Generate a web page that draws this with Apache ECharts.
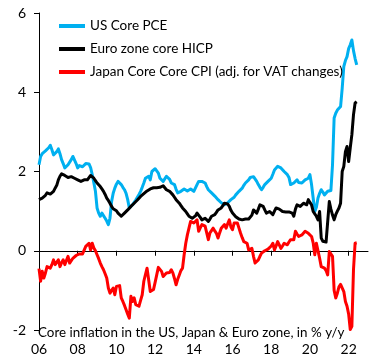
<!DOCTYPE html>
<html><head><meta charset="utf-8">
<script src="https://cdn.jsdelivr.net/npm/echarts@6/dist/echarts.min.js"></script>
<style>html,body{margin:0;padding:0;background:#fff}#c{width:383px;height:360px}</style>
</head><body><div id="c"></div>
<script>
// Monthly data, Jan 2006 .. Jun 2022 (% y/y)
const startYear = 2006;
const seriesNames = ['US Core PCE', 'Euro zone core HICP', 'Japan Core Core CPI (adj. for VAT changes)'];

const usCorePCE = [
  2.17,2.38,2.45,2.50,2.52,2.55,2.60,2.66,2.55,2.42,2.45,2.50,
  2.57,2.45,2.30,2.20,2.09,2.12,2.17,2.22,2.30,2.38,2.40,2.20,
  2.09,2.15,2.17,2.12,2.13,2.20,2.24,2.19,2.10,1.92,1.72,1.50,
  1.08,0.95,0.87,0.95,0.99,0.82,0.75,0.66,0.82,1.24,1.45,1.58,
  1.68,1.75,1.72,1.67,1.60,1.54,1.45,1.29,1.08,1.12,1.16,1.22,
  1.28,1.33,1.42,1.50,1.60,1.71,1.83,1.85,1.88,1.79,2.00,2.04,
  2.07,2.02,1.96,1.83,1.78,1.75,1.80,1.88,1.92,1.80,1.71,1.69,
  1.67,1.55,1.46,1.48,1.50,1.53,1.56,1.54,1.51,1.54,1.56,1.53,
  1.50,1.50,1.67,1.75,1.74,1.75,1.73,1.71,1.62,1.54,1.50,1.46,
  1.42,1.38,1.33,1.29,1.25,1.21,1.18,1.16,1.18,1.21,1.25,1.29,
  1.29,1.35,1.41,1.46,1.50,1.54,1.58,1.65,1.71,1.75,1.79,1.85,
  1.90,1.87,1.83,1.75,1.67,1.60,1.54,1.60,1.67,1.70,1.75,1.79,
  1.83,1.93,2.04,2.08,2.13,2.09,2.09,2.04,2.00,1.96,1.92,1.85,
  1.67,1.69,1.71,1.75,1.79,1.72,1.67,1.71,1.75,1.79,1.80,1.83,
  1.92,1.67,1.33,0.99,1.10,1.33,1.45,1.54,1.48,1.41,1.45,1.50,
  1.50,1.52,2.17,3.35,3.47,3.55,3.60,3.64,4.10,4.65,4.80,4.90,
  5.10,5.20,5.32,5.05,4.85,4.69
];

const euroCoreHICP = [
  1.29,1.31,1.33,1.37,1.40,1.46,1.44,1.43,1.47,1.50,1.58,1.65,
  1.79,1.88,1.94,1.92,1.90,1.88,1.85,1.86,1.87,1.85,1.83,1.81,
  1.79,1.79,1.75,1.71,1.79,1.77,1.79,1.84,1.90,1.87,1.83,1.77,
  1.71,1.66,1.62,1.56,1.50,1.42,1.33,1.27,1.20,1.12,1.06,1.03,
  1.01,0.95,0.90,0.87,0.84,0.95,0.99,1.03,1.08,1.12,1.16,1.20,
  1.24,1.28,1.33,1.37,1.41,1.44,1.48,1.51,1.54,1.56,1.58,1.59,
  1.60,1.59,1.58,1.60,1.62,1.64,1.67,1.54,1.52,1.50,1.45,1.41,
  1.35,1.29,1.25,1.20,1.14,1.08,1.04,0.99,0.93,0.87,0.85,0.82,
  0.82,0.88,0.95,0.91,0.84,0.78,0.80,0.82,0.78,0.74,0.80,0.87,
  0.89,0.91,0.97,1.03,1.05,1.08,1.14,1.20,1.24,1.18,1.12,1.02,
  0.95,0.91,0.86,0.82,0.80,0.78,0.78,0.78,0.80,0.82,0.80,0.78,
  0.90,1.03,0.99,0.95,1.05,1.16,1.14,1.12,1.03,0.95,0.97,0.99,
  0.95,0.91,1.00,1.08,1.08,1.05,1.03,0.99,0.95,0.98,1.01,0.98,
  0.95,0.95,0.87,1.05,1.16,1.14,1.12,1.16,1.20,1.18,1.16,1.29,
  1.22,1.16,0.99,0.93,0.87,0.78,0.99,0.32,0.24,0.22,0.22,0.27,
  1.24,1.05,0.90,0.78,0.91,1.00,1.08,1.20,2.00,2.13,2.50,2.63,
  2.25,2.60,2.93,3.43,3.73,3.76
];

const japanCoreCoreCPI = [
  -0.45,-0.77,-0.52,-0.69,-0.56,-0.40,-0.45,-0.44,-0.35,-0.23,-0.35,-0.30,
  -0.23,-0.40,-0.30,-0.23,-0.35,-0.40,-0.14,-0.31,-0.25,-0.19,-0.15,-0.12,
  -0.10,-0.08,-0.06,-0.08,-0.10,0.11,0.15,0.19,0.02,0.19,0.07,0.00,
  -0.10,-0.20,-0.31,-0.40,-0.48,-0.58,-0.69,-0.94,-1.07,-1.00,-0.94,-1.11,
  -0.90,-0.86,-0.88,-1.19,-1.28,-1.38,-1.49,-1.60,-1.70,-1.15,-1.28,-1.19,
  -1.36,-1.38,-1.40,-1.25,-1.11,-0.77,-0.60,-0.44,-0.40,-1.03,-1.00,-0.98,
  -0.80,-0.61,-0.42,-0.47,-0.52,-0.65,-0.60,-0.56,-0.61,-0.55,-0.48,-0.56,
  -0.70,-0.86,-0.72,-0.61,-0.50,-0.44,-0.10,0.19,0.40,0.57,0.74,0.72,
  0.70,0.74,0.78,0.49,0.58,0.66,0.64,0.62,0.45,0.28,0.45,0.50,
  0.57,0.50,0.44,0.32,0.45,0.57,0.62,0.66,0.57,0.68,0.78,0.60,
  0.53,0.70,0.70,0.70,0.57,0.44,0.33,0.23,0.21,0.19,0.02,0.04,
  0.06,-0.14,-0.31,-0.27,-0.23,-0.14,-0.06,-0.02,0.00,0.02,0.04,0.06,
  0.12,0.19,0.02,0.12,0.23,0.15,0.06,0.12,0.19,0.17,0.15,0.22,
  0.28,0.28,0.28,0.49,0.42,0.36,0.38,0.40,0.45,0.49,0.46,0.44,
  0.40,0.36,0.20,-0.10,0.19,0.19,-0.19,-0.40,-0.42,-0.44,-0.50,-0.61,
  -0.02,0.02,-0.14,-1.00,-1.19,-1.07,-0.91,-0.85,-0.82,-1.03,-1.28,-1.40,
  -1.60,-1.99,-1.91,-0.48,0.19,0.20
];

const xTickYears = [2006, 2008, 2010, 2012, 2014, 2016, 2018, 2020, 2022];
const xTickLabels = ['06', '08', '10', '12', '14', '16', '18', '20', '22'];
const yTicks = [-2, 0, 2, 4, 6];
const caption = 'Core inflation in the US, Japan & Euro zone, in % y/y';
const colors = ['#00b0f0', '#000000', '#ff0000'];

function toPairs(vals) { return vals.map((v, i) => [startYear + i / 12, v]); }

const FONT = 'Lato';
const chart = echarts.init(document.getElementById('c'), null, { renderer: 'canvas' });
chart.setOption({
  animation: false,
  backgroundColor: '#fff',
  grid: { left: 39, right: 15, top: 13, bottom: 30, containLabel: false },
  legend: {
    orient: 'vertical', left: 54, top: 14, itemWidth: 26, itemHeight: 4, itemGap: 9,
    icon: 'rect',
    data: seriesNames,
    textStyle: { fontFamily: FONT, fontSize: 13.5, color: '#000' }
  },
  graphic: [{
    type: 'text', left: 38, top: 326,
    style: { text: caption, font: '13.4px ' + FONT, fill: '#000' }
  }],
  xAxis: [{
    type: 'value', min: 2006, max: 2023,
    axisLine: { show: true, onZero: true, lineStyle: { color: '#000', width: 1 } },
    axisTick: { show: true, length: 5, customValues: xTickYears, lineStyle: { color: '#000' } },
    axisLabel: { show: false },
    splitLine: { show: false }
  }, {
    type: 'value', min: 2006, max: 2023, position: 'bottom',
    axisLine: { show: false, onZero: false },
    axisTick: { show: false },
    axisLabel: {
      show: true, customValues: xTickYears, margin: 12,
      formatter: v => { const i = xTickYears.indexOf(Math.round(v)); return i >= 0 ? xTickLabels[i] : ''; },
      fontFamily: FONT, fontSize: 14, color: '#000'
    },
    splitLine: { show: false }
  }],
  yAxis: {
    type: 'value', min: -2, max: 6, interval: 2,
    axisLine: { show: true, onZero: false, lineStyle: { color: '#000', width: 1 } },
    axisTick: { show: true, length: 5, lineStyle: { color: '#000' } },
    axisLabel: { margin: 13, fontFamily: FONT, fontSize: 14, color: '#000',
      formatter: v => yTicks.includes(v) ? String(v) : '' },
    splitLine: { show: false }
  },
  series: [
    { name: seriesNames[0], data: toPairs(usCorePCE), color: colors[0] },
    { name: seriesNames[1], data: toPairs(euroCoreHICP), color: colors[1] },
    { name: seriesNames[2], data: toPairs(japanCoreCoreCPI), color: colors[2] }
  ].map(s => Object.assign({
    type: 'line', xAxisIndex: 0, showSymbol: false, symbol: 'none',
    lineStyle: { width: 3, color: s.color, join: 'round' },
    itemStyle: { color: s.color }
  }, s))
});
</script>
</body></html>
